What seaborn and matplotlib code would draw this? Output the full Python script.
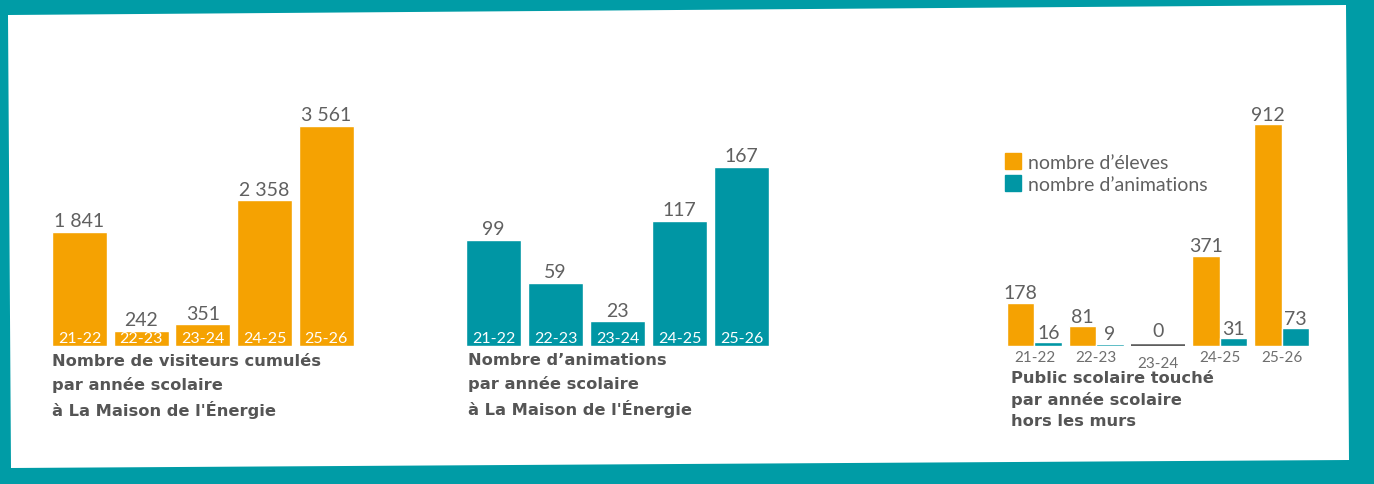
import pandas as pd
import matplotlib.pyplot as plt
import seaborn as sns
from matplotlib.patches import Polygon
from matplotlib.lines import Line2D

annees = ['21-22', '22-23', '23-24', '24-25', '25-26']
visiteurs = [1841, 242, 351, 2358, 3561]
animations = [99, 59, 23, 117, 167]
eleves_hors = [178, 81, 0, 371, 912]
animations_hors = [16, 9, 0, 31, 73]

titre1 = "Nombre de visiteurs cumulés\npar année scolaire\nà La Maison de l'Énergie"
titre2 = "Nombre d’animations\npar année scolaire\nà La Maison de l'Énergie"
titre3 = "Public scolaire touché\npar année scolaire\nhors les murs"
legende = ['nombre d’éleves', 'nombre d’animations']

ORANGE = '#F5A202'
TEAL = '#0096A4'
FOND = '#009CA6'
GRIS = '#555555'
CHIFFRES = '#606060'
TITRE_FONT = ['DejaVu Sans']

W, H = 1374, 485

sns.set_theme(style='white')
plt.rcParams['font.family'] = ['Lato', 'DejaVu Sans']

fig = plt.figure(figsize=(W / 100, H / 100), dpi=100, facecolor=FOND)

# white panel, slightly tilted
pts = [(8, 16), (1346, 6), (1349, 461), (11, 469)]
fig.patches.append(Polygon([(x / W, 1 - y / H) for x, y in pts], closed=True,
                           transform=fig.transFigure, facecolor='white',
                           edgecolor='none', zorder=-1))


def make_ax(x0, x1, top=100, base=347):
    ax = fig.add_axes([x0 / W, 1 - base / H, (x1 - x0) / W, (base - top) / H])
    ax.set_facecolor('none')
    return ax


def clean(ax, ymax):
    ax.set_ylim(0, ymax)
    ax.set_xlim(-0.5, 4.5)
    ax.set_xticks([])
    ax.set_yticks([])
    ax.set_xlabel('')
    ax.set_ylabel('')
    sns.despine(ax=ax, left=True, bottom=True)


def fmt(v):
    return f'{v:,}'.replace(',', ' ')


def simple_chart(ax, values, color, ymax, titre, tx, ty):
    df = pd.DataFrame({'annee': annees, 'valeur': values})
    sns.barplot(data=df, x='annee', y='valeur', color=color, width=0.89,
                saturation=1, ax=ax)
    clean(ax, ymax)
    ax.bar_label(ax.containers[0], labels=[fmt(v) for v in values],
                 padding=2, fontsize=14, color=CHIFFRES)
    for i, a in enumerate(annees):
        ax.annotate(a, xy=(i, 0), xytext=(0, 1), textcoords='offset points',
                    ha='center', va='bottom', fontsize=11.5, color='white')
    fig.text(tx / W, 1 - ty / H, titre, ha='left', va='top', fontsize=11.7,
             fontweight='bold', color=GRIS, linespacing=1.58,
             family=TITRE_FONT)


ax1 = make_ax(48.7, 357)
simple_chart(ax1, visiteurs, ORANGE, 3998, titre1, 52, 354)

ax2 = make_ax(462.5, 772.5)
simple_chart(ax2, animations, TEAL, 230.4, titre2, 468, 353)

# third chart: grouped bars
ax3 = make_ax(1003.6, 1312.4)
df3 = pd.DataFrame({
    'annee': annees * 2,
    'type': [legende[0]] * 5 + [legende[1]] * 5,
    'valeur': eleves_hors + animations_hors,
})
sns.barplot(data=df3, x='annee', y='valeur', hue='type', hue_order=legende,
            palette=[ORANGE, TEAL], width=0.89, saturation=1, ax=ax3,
            legend=False)
clean(ax3, 1014.7)
for cont, vals in zip(ax3.containers, [eleves_hors, animations_hors]):
    labs = ['' if v == 0 else fmt(v) for v in vals]
    ax3.bar_label(cont, labels=labs, padding=1, fontsize=14, color=CHIFFRES)
i0 = annees.index('23-24')
ax3.hlines(1.5, i0 - 0.43, i0 + 0.43, color='#5E5E5E', lw=2.6)
ax3.annotate('0', xy=(i0, 0), xytext=(0, 5), textcoords='offset points',
             ha='center', va='bottom', fontsize=14, color=CHIFFRES)
for i, a in enumerate(annees):
    dy = -7 if a == '23-24' else -3
    ax3.annotate(a, xy=(i, 0), xytext=(0, dy), textcoords='offset points',
                 ha='center', va='top', fontsize=11, color='#6E6E6E')
fig.text(1011 / W, 1 - 371 / H, titre3, ha='left', va='top', fontsize=11.7,
         fontweight='bold', color=GRIS, linespacing=1.5, family=TITRE_FONT)

handles = [Line2D([], [], marker='s', ls='none', markersize=11,
                  markerfacecolor=c, markeredgecolor=c) for c in [ORANGE, TEAL]]
fig.legend(handles, legende, loc='upper left',
           bbox_to_anchor=(1005 / W, 1 - 155 / H), frameon=False,
           labelcolor=CHIFFRES, handlelength=0.8, handletextpad=0.4,
           labelspacing=0.25, borderaxespad=0, borderpad=0,
           prop={'size': 14})

fig.savefig('out.png', dpi=100, facecolor=FOND)
